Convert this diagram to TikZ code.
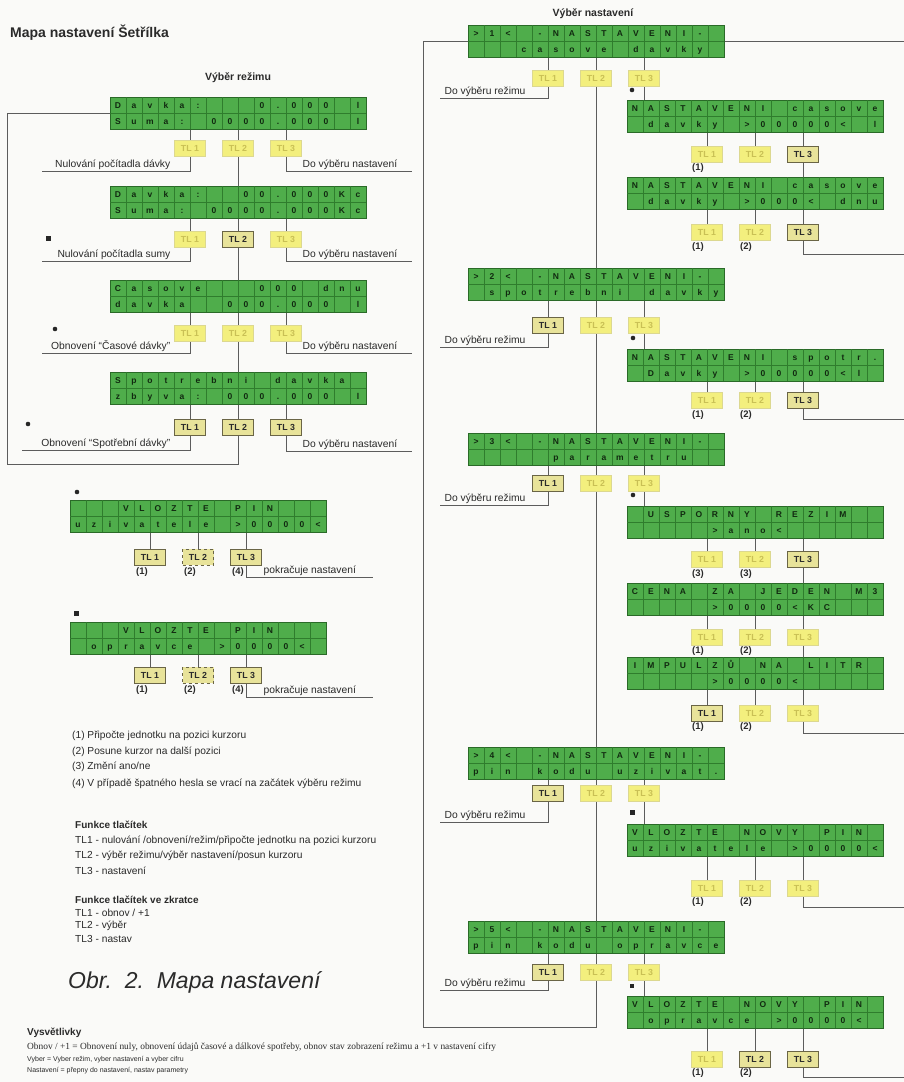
\documentclass[tikz,border=0pt]{standalone}
\usepackage{fontspec}
\setmainfont{Liberation Sans}
\newfontfamily\notesfont{Liberation Serif}
\usetikzlibrary{calc,backgrounds}
\definecolor{lcdfill}{HTML}{4FAD4B}
\definecolor{lcdline}{HTML}{2F7D2D}
\definecolor{lcdedge}{HTML}{2A6A28}
\definecolor{lcdtext}{HTML}{112A10}
\definecolor{btnfill}{HTML}{E8E39A}
\definecolor{btnedge}{HTML}{6A6546}
\definecolor{palefill}{HTML}{F3EF7E}
\definecolor{paleedge}{HTML}{DCD890}
\definecolor{paletext}{HTML}{C9C055}
\definecolor{wirec}{HTML}{5C5C5C}
\definecolor{ink}{HTML}{2A2A2A}
\definecolor{bgc}{HTML}{FAFAF8}

\newcommand\lcdpanel[5]{%
  \node[lcd] (#1) at (#2,#3) {};
  \begin{scope}[shift={(#2,#3)}]
    \foreach \k in {1,...,15} \draw[lcdgrid] (16*\k,0) -- (16*\k,32);
    \draw[lcdgrid] (0,16) -- (256,16);
    \foreach \lcdc [count=\i from 0] in {#4} \node[lcdch] at (8+16*\i,11.3) {\lcdc};
    \foreach \lcdc [count=\i from 0] in {#5} \node[lcdch] at (8+16*\i,27.3) {\lcdc};
  \end{scope}}

\newcommand\tlbuttons[6]{%
  \node[btn,#4] (#1-1) at (#3,#2) {TL 1};
  \node[btn,#5] (#1-2) at ({#3+48},#2) {TL 2};
  \node[btn,#6] (#1-3) at ({#3+96},#2) {TL 3};
  \begin{scope}[on background layer]
    \draw[wire] (#1.south -| #1-1) -- (#1-1.center);
    \draw[wire] (#1.south -| #1-2) -- (#1-2.center);
    \draw[wire] (#1.south -| #1-3) -- (#1-3.center);
  \end{scope}}

\begin{document}
\begin{tikzpicture}[x=1pt,y=-1pt,
  lcd/.style={draw=lcdedge, line width=0.9pt, fill=lcdfill, minimum width=256pt, minimum height=32pt, inner sep=0pt, outer sep=0pt, anchor=north west},
  lcdgrid/.style={draw=lcdline, line width=0.6pt},
  lcdch/.style={font=\fontsize{8.5}{9}\selectfont\bfseries, text=lcdtext, inner sep=0pt, anchor=base},
  btn/.style={draw=btnedge, line width=0.7pt, fill=btnfill, minimum width=31pt, minimum height=16pt, inner sep=0pt, font=\fontsize{8.8}{9}\selectfont\bfseries, text=ink},
  pale/.style={draw=paleedge, fill=palefill, text=paletext},
  dotedge/.style={dashed},
  wire/.style={draw=wirec, line width=0.9pt},
  lbl/.style={font=\fontsize{10.3}{12}\selectfont, text=ink, inner sep=1.5pt},
  num/.style={font=\fontsize{9.5}{10}\selectfont\bfseries, text=ink, inner sep=0pt},
  note/.style={font=\fontsize{10.2}{12}\selectfont, text=ink, anchor=west, inner sep=0pt},
  notehead/.style={font=\fontsize{10}{12}\selectfont\bfseries, text=ink, anchor=west, inner sep=0pt},
  head/.style={font=\fontsize{10.5}{12}\selectfont\bfseries, text=ink, inner sep=0pt},
  dotmark/.style={fill=black!85},
]
\begin{scope}[on background layer]
  \fill[bgc] (0,0) rectangle (904,1082);
\end{scope}
\useasboundingbox (0,0) rectangle (904,1082);

% ---------------- titles ----------------
\node[anchor=west, font=\fontsize{14}{16}\selectfont\bfseries, text=ink, inner sep=0pt] (title) at (10,33) {Mapa nastavení Šetřílka};
\node[head] (hL) at (238,78) {Výběr režimu};
\node[head] (hR) at (593,14) {Výběr nastavení};

% ---------------- left: mode selection ----------------
\lcdpanel{L1}{110}{97}{D,a,v,k,a,:,{},{},{},0,{.},0,0,0,{},l}{S,u,m,a,:,{},0,0,0,0,{.},0,0,0,{},l}
\tlbuttons{L1}{148}{190}{pale}{pale}{pale}
\lcdpanel{L2}{110}{186}{D,a,v,k,a,:,{},{},0,0,{.},0,0,0,K,c}{S,u,m,a,:,{},0,0,0,0,{.},0,0,0,K,c}
\tlbuttons{L2}{239}{190}{pale}{}{pale}
\lcdpanel{L3}{110}{280}{C,a,s,o,v,e,{},{},{},0,0,0,{},d,n,u}{d,a,v,k,a,{},{},0,0,0,{.},0,0,0,{},l}
\tlbuttons{L3}{333}{190}{pale}{pale}{pale}
\lcdpanel{L4}{110}{372}{S,p,o,t,r,e,b,n,i,{},d,a,v,k,a,{}}{z,b,y,v,a,:,{},0,0,0,{.},0,0,0,{},l}
\tlbuttons{L4}{427}{190}{}{}{}

\coordinate (L1l) at (42,171);  \coordinate (L1r) at (412,171);
\coordinate (L2l) at (42,261);  \coordinate (L2r) at (412,261);
\coordinate (L3l) at (42,353);  \coordinate (L3r) at (412,353);
\coordinate (L4l) at (22,450);  \coordinate (L4r) at (412,451);
\coordinate (Fl) at (7,464);
\begin{scope}[on background layer]
  \foreach \r in {1,2,3,4} {
    \draw[wire] (L\r-1.center) |- (L\r l);
    \draw[wire] (L\r-3.center) |- (L\r r);
  }
  \draw[wire] (L1-2.center) -- (L2.north);
  \draw[wire] (L2-2.center) -- (L3.north);
  \draw[wire] (L3-2.center) -- (L4.north);
  \draw[wire] (L4-2.center) |- (Fl) |- (L1.west);
\end{scope}
\node[lbl, anchor=south east] (t1a) at (172,171) {Nulování počítadla dávky};
\node[lbl, anchor=south west] (t1b) at (301,171) {Do výběru nastavení};
\node[lbl, anchor=south east] (t2a) at (172,261) {Nulování počítadla sumy};
\node[lbl, anchor=south west] (t2b) at (301,261) {Do výběru nastavení};
\node[lbl, anchor=south east] (t3a) at (172,353) {Obnovení “Časové dávky”};
\node[lbl, anchor=south west] (t3b) at (301,353) {Do výběru nastavení};
\node[lbl, anchor=south east] (t4a) at (172,450) {Obnovení “Spotřební dávky”};
\node[lbl, anchor=south west] (t4b) at (301,451) {Do výběru nastavení};
\fill[dotmark] (46,236) rectangle (51,241);
\fill[dotmark] (55,329) circle (2.3);
\fill[dotmark] (28,424) circle (2.3);

% ---------------- left: PIN entry ----------------
\fill[dotmark] (77,492) circle (2.3);
\lcdpanel{V1}{70}{500}{{},{},{},V,L,O,Z,T,E,{},P,I,N,{},{},{}}{u,z,i,v,a,t,e,l,e,{},>,0,0,0,0,<}
\tlbuttons{V1}{557}{150}{}{dotedge}{}
\node[num] (n11) at (142,572) {(1)};
\node[num] (n12) at (190,572) {(2)};
\node[num] (n14) at (238,572) {(4)};
\coordinate (V1r) at (373,577);
\begin{scope}[on background layer]\draw[wire] (V1-3.center) |- (V1r);\end{scope}
\node[lbl, anchor=south west] (p1) at (262,577) {pokračuje nastavení};

\fill[dotmark] (74,611) rectangle (79,616);
\lcdpanel{V2}{70}{622}{{},{},{},V,L,O,Z,T,E,{},P,I,N,{},{},{}}{{},o,p,r,a,v,c,e,{},>,0,0,0,0,<,{}}
\tlbuttons{V2}{675}{150}{}{dotedge}{}
\node[num] (n21) at (142,690) {(1)};
\node[num] (n22) at (190,690) {(2)};
\node[num] (n24) at (238,690) {(4)};
\coordinate (V2r) at (373,697);
\begin{scope}[on background layer]\draw[wire] (V2-3.center) |- (V2r);\end{scope}
\node[lbl, anchor=south west] (p2) at (262,697) {pokračuje nastavení};

% ---------------- left: notes ----------------
\node[note] (f1) at (72,736) {(1) Připočte jednotku na pozici kurzoru};
\node[note] (f2) at (72,752) {(2) Posune kurzor na další pozici};
\node[note] (f3) at (72,767) {(3) Změní ano/ne};
\node[note] (f4) at (72,784) {(4) V případě špatného hesla se vrací na začátek výběru režimu};
\node[notehead] (g0) at (75,825) {Funkce tlačítek};
\node[note] (g1) at (75,841) {TL1 - nulování /obnovení/režim/připočte jednotku na pozici kurzoru};
\node[note] (g2) at (75,856) {TL2 - výběr režimu/výběr nastavení/posun kurzoru};
\node[note] (g3) at (75,871) {TL3 - nastavení};
\node[notehead] (h0) at (75,900) {Funkce tlačítek ve zkratce};
\node[note] (h1) at (75,913) {TL1 - obnov / +1};
\node[note] (h2) at (75,926) {TL2 - výběr};
\node[note] (h3) at (75,939) {TL3 - nastav};
\node[anchor=west, inner sep=0pt, font=\fontsize{23}{26}\selectfont\itshape, text=ink] (obr) at (68,982) {Obr.\ \ 2.\ \ Mapa nastavení};

\node[notehead] (v0) at (27,1033) {Vysvětlivky};
\node[anchor=west, inner sep=0pt, font=\notesfont\fontsize{9.4}{10}\selectfont, text=ink] (v1) at (27,1047) {Obnov / +1 = Obnovení nuly, obnovení údajů časové a dálkové spotřeby, obnov stav zobrazení režimu a +1 v nastavení cifry};
\node[anchor=west, inner sep=0pt, font=\fontsize{7}{8}\selectfont, text=ink] (v2) at (27,1060) {Vyber = Vyber režim, vyber nastavení a vyber cifru};
\node[anchor=west, inner sep=0pt, font=\fontsize{7}{8}\selectfont, text=ink] (v3) at (27,1071) {Nastavení = přepny do nastavení, nastav parametry};

% ---------------- right: settings selection ----------------
\lcdpanel{R1}{468}{25}{>,1,<,{},-,N,A,S,T,A,V,E,N,I,-,{}}{{},{},{},c,a,s,o,v,e,{},d,a,v,k,y,{}}
\tlbuttons{R1}{78}{548}{pale}{pale}{pale}
\lcdpanel{R2}{468}{268}{>,2,<,{},-,N,A,S,T,A,V,E,N,I,-,{}}{{},s,p,o,t,r,e,b,n,i,{},d,a,v,k,y}
\tlbuttons{R2}{325}{548}{}{pale}{pale}
\lcdpanel{R3}{468}{433}{>,3,<,{},-,N,A,S,T,A,V,E,N,I,-,{}}{{},{},{},{},{},p,a,r,a,m,e,t,r,u,{},{}}
\tlbuttons{R3}{483}{548}{}{pale}{pale}
\lcdpanel{R4}{468}{747}{>,4,<,{},-,N,A,S,T,A,V,E,N,I,-,{}}{p,i,n,{},k,o,d,u,{},u,z,i,v,a,t,{.}}
\tlbuttons{R4}{793}{548}{}{pale}{pale}
\lcdpanel{R5}{468}{921}{>,5,<,{},-,N,A,S,T,A,V,E,N,I,-,{}}{p,i,n,{},k,o,d,u,{},o,p,r,a,v,c,e}
\tlbuttons{R5}{972}{548}{}{pale}{pale}

\lcdpanel{S1}{627}{100}{N,A,S,T,A,V,E,N,I,{},c,a,s,o,v,e}{{},d,a,v,k,y,{},>,0,0,0,0,0,<,{},l}
\tlbuttons{S1}{154}{707}{pale}{pale}{}
\lcdpanel{S2}{627}{177}{N,A,S,T,A,V,E,N,I,{},c,a,s,o,v,e}{{},d,a,v,k,y,{},>,0,0,0,<,{},d,n,u}
\tlbuttons{S2}{232}{707}{pale}{pale}{}
\lcdpanel{S3}{627}{349}{N,A,S,T,A,V,E,N,I,{},s,p,o,t,r,{.}}{{},D,a,v,k,y,{},>,0,0,0,0,0,<,l,{}}
\tlbuttons{S3}{400}{707}{pale}{pale}{}
\lcdpanel{S4}{627}{506}{{},U,S,P,O,R,N,Y,{},R,E,Z,I,M,{},{}}{{},{},{},{},{},>,a,n,o,<,{},{},{},{},{},{}}
\tlbuttons{S4}{559}{707}{pale}{pale}{}
\lcdpanel{S5}{627}{583}{C,E,N,A,{},Z,A,{},J,E,D,E,N,{},M,3}{{},{},{},{},{},>,0,0,0,0,<,K,C,{},{},{}}
\tlbuttons{S5}{637}{707}{pale}{pale}{pale}
\lcdpanel{S6}{627}{657}{I,M,P,U,L,Z,Ů,{},N,A,{},L,I,T,R,{}}{{},{},{},{},{},>,0,0,0,0,<,{},{},{},{},{}}
\tlbuttons{S6}{713}{707}{}{pale}{pale}
\lcdpanel{S7}{627}{824}{V,L,O,Z,T,E,{},N,O,V,Y,{},P,I,N,{}}{u,z,i,v,a,t,e,l,e,{},>,0,0,0,0,<}
\tlbuttons{S7}{888}{707}{pale}{pale}{pale}
\lcdpanel{S8}{627}{996}{V,L,O,Z,T,E,{},N,O,V,Y,{},P,I,N,{}}{{},o,p,r,a,v,c,e,{},>,0,0,0,0,<,{}}
\tlbuttons{S8}{1059}{707}{pale}{}{}

% number labels under buttons
\node[num] (s1n1) at (698,168) {(1)};
\node[num] (s2n1) at (698,247) {(1)};  \node[num] (s2n2) at (746,247) {(2)};
\node[num] (s3n1) at (698,415) {(1)};  \node[num] (s3n2) at (746,415) {(2)};
\node[num] (s4n1) at (698,574) {(3)};  \node[num] (s4n2) at (746,574) {(3)};
\node[num] (s5n1) at (698,651) {(1)};  \node[num] (s5n2) at (746,651) {(2)};
\node[num] (s6n1) at (698,727) {(1)};  \node[num] (s6n2) at (746,727) {(2)};
\node[num] (s7n1) at (698,902) {(1)};  \node[num] (s7n2) at (746,902) {(2)};
\node[num] (s8n1) at (698,1073) {(1)}; \node[num] (s8n2) at (746,1073) {(2)};

% bullets
\fill[dotmark] (632,90) circle (2.3);
\fill[dotmark] (633,338) circle (2.3);
\fill[dotmark] (633,495) circle (2.3);
\fill[dotmark] (630,810) rectangle (635,815);
\fill[dotmark] (630,984) rectangle (634,988);

% wiring
\coordinate (R1l) at (440,98);
\coordinate (R2l) at (440,347);
\coordinate (R3l) at (440,505);
\coordinate (R4l) at (440,822);
\coordinate (R5l) at (440,990);
\coordinate (Fr) at (423,1027);
\coordinate (Rtop) at (904,41);
\coordinate (S2r) at (904,254);
\coordinate (S3r) at (904,419);
\coordinate (S6r) at (904,733);
\coordinate (S7r) at (904,907);
\coordinate (S8r) at (904,1077);
\begin{scope}[on background layer]
  \foreach \r in {1,...,5} \draw[wire] (R\r-1.center) |- (R\r l);
  \draw[wire] (R1-2.center) -- (R2.north);
  \draw[wire] (R2-2.center) -- (R3.north);
  \draw[wire] (R3-2.center) -- (R4.north);
  \draw[wire] (R4-2.center) -- (R5.north);
  \draw[wire] (R5-2.center) |- (Fr) |- (R1.west);
  \draw[wire] (R1.east) -- (Rtop);
  \draw[wire] (R1-3.center) -- (R1-3 |- S1.north);
  \draw[wire] (R2-3.center) -- (R2-3 |- S3.north);
  \draw[wire] (R3-3.center) -- (R3-3 |- S4.north);
  \draw[wire] (R4-3.center) -- (R4-3 |- S7.north);
  \draw[wire] (R5-3.center) -- (R5-3 |- S8.north);
  \draw[wire] (S1-3.center) -- (S1-3 |- S2.north);
  \draw[wire] (S4-3.center) -- (S4-3 |- S5.north);
  \draw[wire] (S5-3.center) -- (S5-3 |- S6.north);
  \draw[wire] (S2-3.center) |- (S2r);
  \draw[wire] (S3-3.center) |- (S3r);
  \draw[wire] (S6-3.center) |- (S6r);
  \draw[wire] (S7-3.center) |- (S7r);
  \draw[wire] (S8-3.center) |- (S8r);
\end{scope}
\node[lbl, anchor=south west] (d1) at (443,98) {Do výběru režimu};
\node[lbl, anchor=south west] (d2) at (443,347) {Do výběru režimu};
\node[lbl, anchor=south west] (d3) at (443,505) {Do výběru režimu};
\node[lbl, anchor=south west] (d4) at (443,822) {Do výběru režimu};
\node[lbl, anchor=south west] (d5) at (443,990) {Do výběru režimu};
\end{tikzpicture}
\end{document}
